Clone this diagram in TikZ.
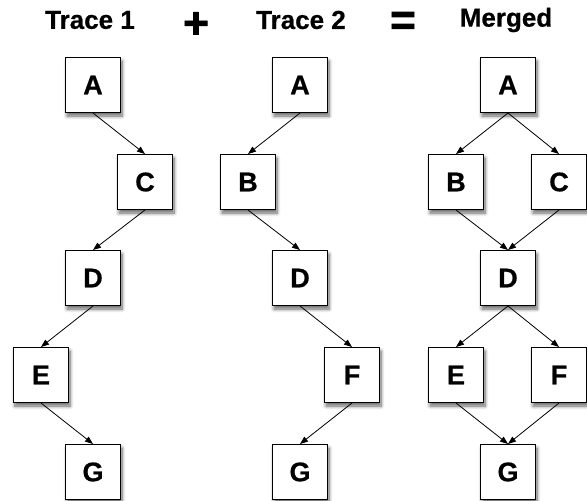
\documentclass[tikz,border=0pt]{standalone}
\usepackage{fontspec}
\setmainfont{Liberation Sans}[BoldFeatures={FakeBold=0.6}]
\newfontfamily\heavyfont[FakeBold=2]{Liberation Sans}
\usetikzlibrary{arrows.meta,shadows.blur}
\begin{document}
\begin{tikzpicture}[x=1pt,y=-1pt,
  box/.style={draw=black,line width=1pt,fill=white,minimum size=55pt,inner sep=0pt,
    font=\fontsize{27}{27}\selectfont\bfseries,
    blur shadow={shadow xshift=1.5pt,shadow yshift=-3.5pt,shadow blur steps=8,shadow opacity=60,shadow blur radius=3.5pt}},
  title/.style={font=\fontsize{26}{26}\selectfont\bfseries,inner sep=0pt},
  op/.style={font=\fontsize{44}{44}\heavyfont\bfseries,inner sep=0pt,
    text height=30pt,text depth=0pt},
  link/.style={line width=0.8pt,-{Triangle[length=8pt,width=6pt]}}]
\useasboundingbox (0,0) rectangle (587,501);

% column headings
\node[title] (t1) at (90,20) {Trace 1};
\node[op] (plus) at (196,23) {+};
\node[title] (t2) at (301,20) {Trace 2};
\node[op] (eq) at (403,20) {=};
\node[title] (tm) at (506,20) {Merged};

% first trace
\node[box] (a1) at (93,85) {A};
\node[box] (c1) at (145,182) {C};
\node[box] (d1) at (93,278) {D};
\node[box] (e1) at (41,375) {E};
\node[box] (g1) at (93,472) {G};

% second trace
\node[box] (a2) at (300,85) {A};
\node[box] (b2) at (248,182) {B};
\node[box] (d2) at (300,278) {D};
\node[box] (f2) at (352,375) {F};
\node[box] (g2) at (300,472) {G};

% merged graph
\node[box] (am) at (508,85) {A};
\node[box] (bm) at (456,182) {B};
\node[box] (cm) at (559,182) {C};
\node[box] (dm) at (508,278) {D};
\node[box] (em) at (456,375) {E};
\node[box] (fm) at (559,375) {F};
\node[box] (gm) at (508,472) {G};

\draw[link] (a1.south) -- (c1.north);
\draw[link] (c1.south) -- (d1.north);
\draw[link] (d1.south) -- (e1.north);
\draw[link] (e1.south) -- (g1.north);

\draw[link] (a2.south) -- (b2.north);
\draw[link] (b2.south) -- (d2.north);
\draw[link] (d2.south) -- (f2.north);
\draw[link] (f2.south) -- (g2.north);

\draw[link] (am.south) -- (bm.north);
\draw[link] (am.south) -- (cm.north);
\draw[link] (bm.south) -- (dm.north);
\draw[link] (cm.south) -- (dm.north);
\draw[link] (dm.south) -- (em.north);
\draw[link] (dm.south) -- (fm.north);
\draw[link] (em.south) -- (gm.north);
\draw[link] (fm.south) -- (gm.north);
\end{tikzpicture}
\end{document}
